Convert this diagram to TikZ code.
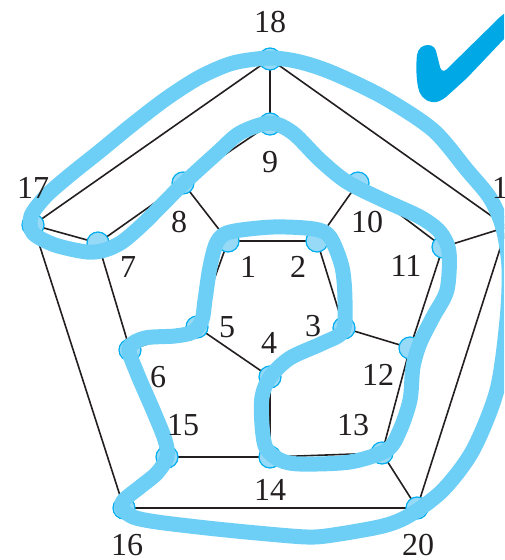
\documentclass[tikz,border=0pt]{standalone}
\usepackage{fontspec}
\setmainfont{Liberation Serif}
\definecolor{edgecol}{RGB}{35,31,32}
\definecolor{hamcol}{RGB}{109,207,246}
\definecolor{vfill}{RGB}{150,218,248}
\definecolor{vline}{RGB}{0,174,239}
\definecolor{checkcol}{RGB}{0,169,230}
\begin{document}
\begin{tikzpicture}[x=1pt,y=-1pt,
  edge/.style={draw=edgecol, line width=1.6pt},
  vert/.style={circle, inner sep=0pt, minimum size=22pt, fill=vfill, draw=vline, line width=1.2pt},
  lab/.style={font=\fontsize{32}{32}\selectfont, text=edgecol, inner sep=0pt},
  ham/.style={draw=hamcol, line width=15pt, line cap=round, line join=round},
  checkmark/.style={fill=checkcol, draw=none}]
\useasboundingbox (0,0) rectangle (504,560);
\clip (0,0) rectangle (504,560);
% vertices
\coordinate (v1) at (228,241);
\coordinate (v2) at (317,241);
\coordinate (v3) at (344,328);
\coordinate (v4) at (270,377);
\coordinate (v5) at (197,327);
\coordinate (v6) at (130,350);
\coordinate (v7) at (98,243);
\coordinate (v8) at (183,183);
\coordinate (v9) at (270,124);
\coordinate (v10) at (358,183);
\coordinate (v11) at (443,247);
\coordinate (v12) at (410,348);
\coordinate (v13) at (382,453);
\coordinate (v14) at (270,457);
\coordinate (v15) at (167,457);
\coordinate (v16) at (124,508);
\coordinate (v17) at (33,225);
\coordinate (v18) at (270,59);
\coordinate (v19) at (507,227);
\coordinate (v20) at (417,508);
% edges
\foreach \a/\b in {1/2,2/3,3/4,4/5,5/1,1/8,2/10,3/12,4/14,5/6,
  8/9,9/10,10/11,11/12,12/13,13/14,14/15,15/6,6/7,7/8,
  9/18,11/19,13/20,15/16,7/17,18/17,17/16,16/20,20/19,19/18}
  \draw[edge] (v\a) -- (v\b);
% vertex markers
\foreach \i in {1,...,20}
  \node[vert] (c\i) at (v\i) {};
% Hamiltonian cycle
\draw[ham] plot[smooth cycle, tension=0.5] coordinates {
  (270,58) (233,63) (200,77) (167,98) (133,124) (100,151) (70,175)
  (46,196) (31,216) (33,233) (55,245) (87,252) (105,250) (122,242) (142,225)
  (162,205) (183,184) (217,153) (240,133) (270,123) (293,133) (320,160)
  (347,182) (383,200) (420,217) (440,232) (449,252) (447,290) (433,317)
  (420,343) (413,367) (410,400) (400,430) (387,450) (350,462) (300,464)
  (280,460) (266,448) (262,425) (262,397) (270,377) (290,358) (323,343)
  (343,331) (345,300) (342,267) (330,237) (314,229) (273,227) (230,232)
  (217,242) (210,267) (205,300) (202,320) (193,332) (175,336) (145,338)
  (129,348) (137,373) (153,410) (165,440) (167,457) (157,473) (140,487)
  (124,500) (122,508) (133,517) (157,522) (207,528) (257,533) (307,537)
  (333,535) (383,526) (410,515) (443,490) (473,450) (497,390) (507,320)
  (509,268) (503,228) (490,198) (467,170) (433,130) (383,97) (333,73)
  (300,62) };
% labels
\node[lab] (l18) at (270,22) {18};
\node[lab] (l9) at (270,162) {9};
\node[lab] (l8) at (179,222) {8};
\node[lab] (l10) at (367,222) {10};
\node[lab] (l17) at (33,188) {17};
\node[lab] (l19) at (508,188) {19};
\node[lab] (l7) at (128,267) {7};
\node[lab] (l1) at (248,267) {1};
\node[lab] (l2) at (298,267) {2};
\node[lab] (l11) at (406,266) {11};
\node[lab] (l5) at (227,327) {5};
\node[lab] (l3) at (313,326) {3};
\node[lab] (l4) at (269,343) {4};
\node[lab] (l12) at (378,375) {12};
\node[lab] (l6) at (158,377) {6};
\node[lab] (l15) at (183,425) {15};
\node[lab] (l13) at (353,425) {13};
\node[lab] (l14) at (270,490) {14};
\node[lab] (l16) at (127,545) {16};
\node[lab] (l20) at (418,545) {20};
% check mark
\fill[checkmark] (417,55) .. controls (418,48) and (423,45) .. (428,45)
  .. controls (433,45) and (436,48) .. (437,55)
  -- (440,67) .. controls (441,71) and (444,72) .. (447,69)
  -- (500,17) -- (515,5) -- (515,30) -- (504,39)
  -- (467,78) -- (446,97) .. controls (441,101) and (436,103) .. (432,102)
  .. controls (424,101) and (419,94) .. (418,87)
  .. controls (416,76) and (416,64) .. (417,55) -- cycle;
\end{tikzpicture}
\end{document}
